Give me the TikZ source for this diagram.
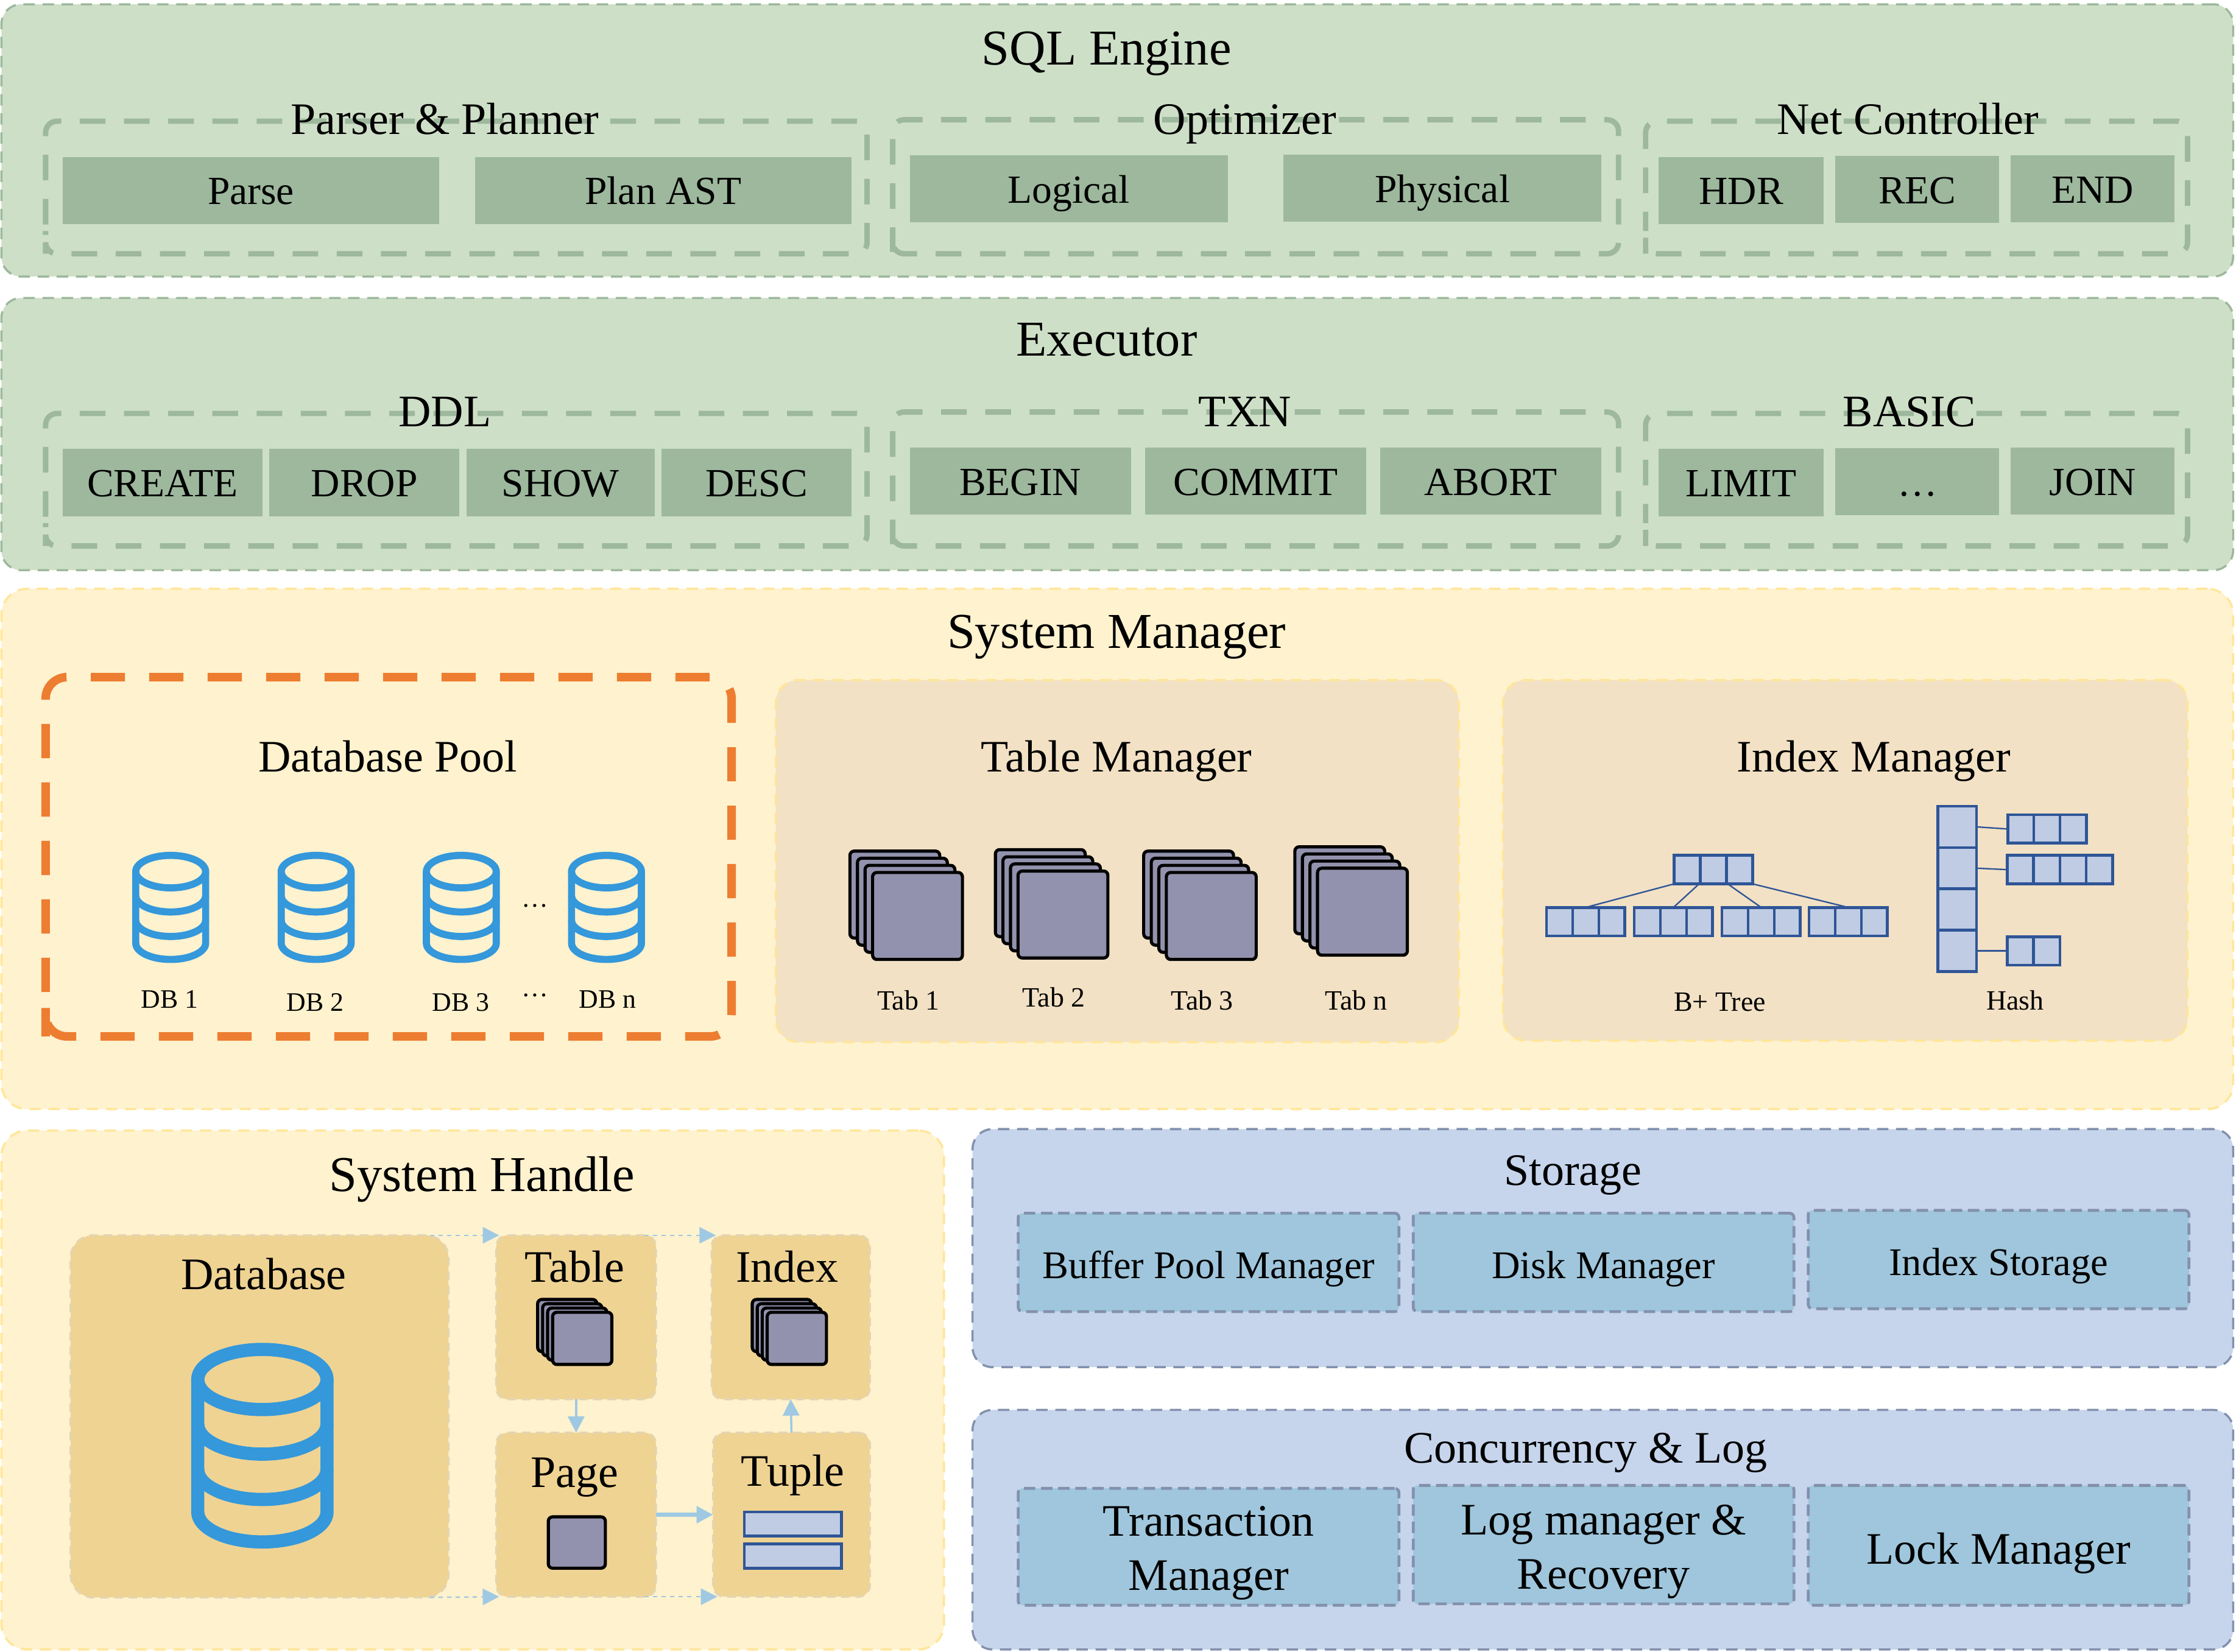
\documentclass[tikz,border=0pt]{standalone}
\usepackage{fontspec}
\setmainfont{Liberation Serif}
\usetikzlibrary{arrows.meta}

\definecolor{greenfill}{HTML}{CEDFC7}
\definecolor{greenblock}{HTML}{9DB89D}
\definecolor{yellowfill}{HTML}{FFF2CE}
\definecolor{yellowline}{HTML}{FFE699}
\definecolor{tanfill}{HTML}{F2E1C4}
\definecolor{sandfill}{HTML}{EFD393}
\definecolor{sandline}{HTML}{E4D5B0}
\definecolor{bluefill}{HTML}{C6D5EC}
\definecolor{blueblock}{HTML}{9FC6DC}
\definecolor{blueline}{HTML}{8391AD}
\definecolor{poolorange}{HTML}{ED7D31}
\definecolor{dbblue}{HTML}{3498DB}
\definecolor{pagegray}{HTML}{9292AE}
\definecolor{cellfill}{HTML}{C0CCE3}
\definecolor{cellline}{HTML}{2F5597}
\definecolor{arrowblue}{HTML}{9FC9E3}

\tikzset{
  dbicon/.pic = {
    \begin{scope}[scale=#1, draw=dbblue, line width=#1*5pt]
      \draw (0,14.4) ellipse [x radius=24.5, y radius=11.4];
      \draw (-24.5,14.4) -- (-24.5,64.6) arc [start angle=180, end angle=0, x radius=24.5, y radius=11.4] -- (24.5,14.4);
      \draw (-24.5,31.3) arc [start angle=180, end angle=0, x radius=24.5, y radius=11.4];
      \draw (-24.5,48.5) arc [start angle=180, end angle=0, x radius=24.5, y radius=11.4];
    \end{scope}
  },
  tabicon/.pic = {
    \foreach \k in {0,1,2,3}
      \draw[fill=pagegray, line width=2.2pt, rounded corners=3pt] ({\k*5.3},{\k*5}) rectangle ++(63,61);
  }
}

% one row of cells, dividers drawn over a single box
\newcommand{\cellrow}[5]{%
  \node[cell, anchor=north west, minimum width=#5pt, minimum height=20pt] (#1) at (#2,#3) {};
  \foreach \k in {1,...,#4}
    \draw[cellbar] ([xshift={\k*#5/#4}]#1.north west) -- ([xshift={\k*#5/#4}]#1.south west);
}
% dashed outline round a node, clockwise from its lower left corner
\newcommand{\ring}[3]{%
  \draw[#1, rounded corners=#3pt] ([yshift=#3]#2.south west) -- (#2.north west) -- (#2.north east) -- (#2.south east) -- (#2.south west) -- cycle;
}

\begin{document}
\begin{tikzpicture}[x=1pt, y=-1pt,
    sz35/.style = {font=\fontsize{35.2}{42}\selectfont, text height=23pt, text depth=0pt},
    sz31/.style = {font=\fontsize{31.6}{38}\selectfont, text height=20.5pt, text depth=0pt},
    sz28/.style = {font=\fontsize{28}{33}\selectfont, text height=20pt, text depth=0pt},
    sz27/.style = {font=\fontsize{27.5}{33}\selectfont, text height=22.2pt, text depth=0pt},
    sz20/.style = {font=\fontsize{19.6}{23}\selectfont, text height=12.6pt, text depth=0pt},
    sz19/.style = {font=\fontsize{18.7}{22}\selectfont, text height=12.4pt, text depth=0pt},
    wh/.style 2 args = {minimum width=#1pt, minimum height=#2pt},
    base/.style = {rectangle, inner sep=0pt, outer sep=0pt, align=center},
    greenpanel/.style = {base, fill=greenfill, draw=greenblock, line width=1.5pt, dash pattern=on 8pt off 5.4pt, rounded corners=14pt},
    greenline/.style = {draw=greenblock, line width=3.8pt, dash pattern=on 18pt off 13pt, dash phase=#1},
    greenbox/.style = {base, sz28, fill=greenblock},
    yellowpanel/.style = {base, fill=yellowfill, draw=yellowline, line width=1.5pt, dash pattern=on 8pt off 5.4pt, rounded corners=18pt},
    tanpanel/.style = {base, fill=tanfill, draw=yellowline, line width=1.5pt, dash pattern=on 8pt off 5.4pt, rounded corners=16pt},
    sandpanel/.style = {base, fill=sandfill, draw=sandline, line width=1.5pt, dash pattern=on 6pt off 4pt, rounded corners=#1},
    bluepanel/.style = {base, fill=bluefill, draw=blueline, line width=1.5pt, dash pattern=on 8pt off 5.4pt, rounded corners=14pt},
    bluebox/.style = {base, fill=blueblock, draw=blueline, line width=2pt, dash pattern=on 8pt off 4pt, rounded corners=3pt},
    poolline/.style = {draw=poolorange, line width=6pt, dash pattern=on 24pt off 17pt, dash phase=39.8pt},
    cell/.style = {base, fill=cellfill, draw=cellline, line width=2pt},
    cellbar/.style = {draw=cellline, line width=1.8pt},
    pagebox/.style = {base, fill=pagegray, draw=black, line width=2.2pt, rounded corners=3pt},
    dasharrow/.style = {draw=arrowblue, line width=1pt, dash pattern=on 3pt off 3pt, -{Triangle[length=11.5pt, width=11.5pt, fill=arrowblue]}},
    solidarrow/.style = {draw=arrowblue, line width=#1, -{Triangle[length=11.5pt, width=11.5pt, fill=arrowblue]}}]
  \useasboundingbox (0,0) rectangle (1568,1158.8);

  % SQL engine
  \node[greenpanel, wh={1565}{191}] (sql) at (783.5,98.5) {};
  \node[sz35] (sqlname) at (776,34) {SQL Engine};
  \node[base, wh={576}{93}] (parser) at (320,131.5) {};
  \node[base, wh={509}{94}] (optimizer) at (880.5,131) {};
  \node[base, wh={380}{93}] (net) at (1344,131.5) {};
  \ring{greenline=26.5pt}{parser}{8}
  \ring{greenline=15.5pt}{optimizer}{8}
  \ring{greenline=4.5pt}{net}{8}
  \node[sz31] (parsername) at (312,84) {Parser \& Planner};
  \node[sz31] (optimizername) at (873,84) {Optimizer};
  \node[sz31] (netname) at (1338,84) {Net Controller};
  \node[greenbox, wh={264}{47}] (parse) at (176,133.5) {Parse};
  \node[greenbox, wh={264}{47}] (plan) at (465,133.5) {Plan AST};
  \node[greenbox, wh={223}{47}] (logical) at (749.5,132.5) {Logical};
  \node[greenbox, wh={223}{47}] (physical) at (1011.5,132) {Physical};
  \node[greenbox, wh={116}{47}] (hdr) at (1221,133.5) {HDR};
  \node[greenbox, wh={115}{47}] (rec) at (1344.5,133) {REC};
  \node[greenbox, wh={115}{47}] (end) at (1467.5,132.5) {END};

  % executor
  \node[greenpanel, wh={1565}{191}] (executor) at (783.5,304.5) {};
  \node[sz35] (executorname) at (776,238) {Executor};
  \node[base, wh={576}{93}] (ddl) at (320,336.5) {};
  \node[base, wh={509}{94}] (txn) at (880.5,336) {};
  \node[base, wh={380}{93}] (basic) at (1344,336.5) {};
  \ring{greenline=26.5pt}{ddl}{8}
  \ring{greenline=15.5pt}{txn}{8}
  \ring{greenline=4.5pt}{basic}{8}
  \node[sz31] (ddlname) at (312,289) {DDL};
  \node[sz31] (txnname) at (873,289) {TXN};
  \node[sz31] (basicname) at (1339,289) {BASIC};
  \node[greenbox, wh={140}{47}] (create) at (114,338.5) {CREATE};
  \node[greenbox, wh={133}{47}] (drop) at (255.5,338.5) {DROP};
  \node[greenbox, wh={132}{47}] (show) at (393,338.5) {SHOW};
  \node[greenbox, wh={133}{47}] (desc) at (530.5,338.5) {DESC};
  \node[greenbox, wh={155}{47}] (begin) at (715.5,337.5) {BEGIN};
  \node[greenbox, wh={155}{47}] (commit) at (880.5,337.5) {COMMIT};
  \node[greenbox, wh={155}{47}] (abort) at (1045.5,337.5) {ABORT};
  \node[greenbox, wh={116}{47}] (limit) at (1221,338.5) {LIMIT};
  \node[greenbox, wh={115}{47}] (more) at (1344.5,338) {…};
  \node[greenbox, wh={115}{47}] (join) at (1467.5,337.5) {JOIN};

  % system manager
  \node[yellowpanel, wh={1565}{365}] (manager) at (783.5,595.5) {};
  \node[sz35] (managername) at (783,443) {System Manager};
  \node[base, wh={481}{252}] (pool) at (272.5,601) {};
  \ring{poolline}{pool}{15}
  \node[tanpanel, wh={479}{254}] (tablemgr) at (783.5,604) {};
  \node[tanpanel, wh={480}{253}] (indexmgr) at (1294,603.5) {};
  \node[sz31] (poolname) at (272,531) {Database Pool};
  \node[sz31] (tablemgrname) at (783,531) {Table Manager};
  \node[sz31] (indexmgrname) at (1314,531) {Index Manager};

  \pic at (119.7,597) {dbicon=1};
  \pic at (221.7,597) {dbicon=1};
  \pic at (323.5,597) {dbicon=1};
  \pic at (425.3,597) {dbicon=1};
  \node[sz19] (db1) at (119,701) {DB 1};
  \node[sz19] (db2) at (221,703) {DB 2};
  \node[sz19] (db3) at (323,703) {DB 3};
  \node[sz19] (dbn) at (426,701) {DB n};
  \node[sz19] (dotsa) at (375,630) {…};
  \node[sz19] (dotsb) at (375,693) {…};

  \pic at (596,597) {tabicon};
  \pic at (698,596) {tabicon};
  \pic at (802,597) {tabicon};
  \pic at (908,594) {tabicon};
  \node[sz20] (tab1) at (637,702) {Tab 1};
  \node[sz20] (tab2) at (739,700) {Tab 2};
  \node[sz20] (tab3) at (843,702) {Tab 3};
  \node[sz20] (tabn) at (951,702) {Tab n};

  \cellrow{root}{1174}{600}{3}{55}
  \cellrow{leafa}{1084.5}{636.5}{3}{55}
  \cellrow{leafb}{1146}{636.5}{3}{55}
  \cellrow{leafc}{1207.5}{636.5}{3}{55}
  \cellrow{leafd}{1268.5}{636.5}{3}{55}
  \draw[cellbar, line width=1pt] (root.south west) -- (leafa.north);
  \draw[cellbar, line width=1pt] ([xshift=-10]root.south) -- (leafb.north);
  \draw[cellbar, line width=1pt] ([xshift=10]root.south) -- (leafc.north);
  \draw[cellbar, line width=1pt] (root.south east) -- (leafd.north);
  \node[sz20] (btree) at (1206,703) {B+ Tree};

  \foreach \k/\y in {1/580, 2/609, 3/638, 4/667}
    \node[cell, wh={27}{29}] (hash\k) at (1372.5,\y) {};
  \cellrow{bucketa}{1408}{571.5}{3}{55}
  \cellrow{bucketb}{1407.5}{600}{4}{74}
  \cellrow{bucketc}{1407.5}{657}{2}{37}
  \draw[cellbar, line width=1pt] (hash1.east) -- (bucketa.west);
  \draw[cellbar, line width=1pt] (hash2.east) -- (bucketb.west);
  \draw[cellbar, line width=1pt] (hash4.east) -- (bucketc.west);
  \node[sz20] (hashname) at (1413,702) {Hash};

  % system handle
  \node[yellowpanel, wh={661}{364}] (handle) at (331.5,975) {};
  \node[sz35] (handlename) at (338,824) {System Handle};
  \node[sandpanel=16pt, wh={265}{254}] (dbase) at (182,993.5) {};
  \node[sandpanel=8pt, wh={112}{115}] (tablebox) at (404,924) {};
  \node[sandpanel=8pt, wh={111}{115}] (indexbox) at (554.5,924) {};
  \node[sandpanel=8pt, wh={112}{115}] (pagebox1) at (404,1062.5) {};
  \node[sandpanel=8pt, wh={110}{115}] (tuplebox) at (555,1062.5) {};
  \node[sz31] (dbasename) at (185,894) {Database};
  \node[sz31] (tablename) at (403,889) {Table};
  \node[sz31] (indexname) at (552,889) {Index};
  \node[sz31] (pagename) at (403,1033) {Page};
  \node[sz31] (tuplename) at (556,1032) {Tuple};
  \pic at (184,941) {dbicon=1.85};
  \pic[xscale=.66, yscale=.6] at (377,911.5) {tabicon};
  \pic[xscale=.66, yscale=.6] at (527.5,911.5) {tabicon};
  \node[pagebox, wh={40}{36}] (pageicon) at (404.5,1082) {};
  \node[cell, wh={68}{17}] (tuplea) at (556,1069) {};
  \node[cell, wh={68}{17}] (tupleb) at (556,1091.5) {};

  \draw[dasharrow] ([xshift=-13]dbase.north east) -- ([xshift=2]tablebox.north west);
  \draw[dasharrow] ([xshift=-8]tablebox.north east) -- ([xshift=3]indexbox.north west);
  \draw[dasharrow] ([xshift=-13]dbase.south east) -- ([xshift=2]pagebox1.south west);
  \draw[dasharrow] ([xshift=-8]pagebox1.south east) -- ([xshift=3]tuplebox.south west);
  \draw[solidarrow=1.5pt] (tablebox.south) -- (pagebox1.north);
  \draw[solidarrow=1.5pt] (tuplebox.north) -- (indexbox.south);
  \draw[solidarrow=3pt] (pagebox1.east) -- (tuplebox.west);

  % storage
  \node[bluepanel, wh={884}{167}] (storage) at (1124,875.5) {};
  \node[sz31] (storagename) at (1103,821) {Storage};
  \node[bluebox, sz27, wh={267}{69}] (buffer) at (847.5,885.5) {Buffer Pool Manager};
  \node[bluebox, sz27, wh={267}{69}] (disk) at (1124.5,885.5) {Disk Manager};
  \node[bluebox, sz27, wh={267}{69}] (indexstore) at (1401.5,883.5) {Index Storage};

  % concurrency and log
  \node[bluepanel, wh={884}{168}] (concurrency) at (1124,1073) {};
  \node[sz31] (concurrencyname) at (1112,1016) {Concurrency \& Log};
  \node[bluebox, sz31, text height=60.8pt, wh={267}{82}] (transaction) at (847.5,1085) {Transaction\\Manager};
  \node[bluebox, sz31, text height=61.8pt, wh={267}{83}] (logmgr) at (1124.5,1083.5) {Log manager \&\\Recovery};
  \node[bluebox, sz31, text height=26.5pt, wh={267}{84}] (lock) at (1401.5,1084) {Lock Manager};
\end{tikzpicture}
\end{document}
